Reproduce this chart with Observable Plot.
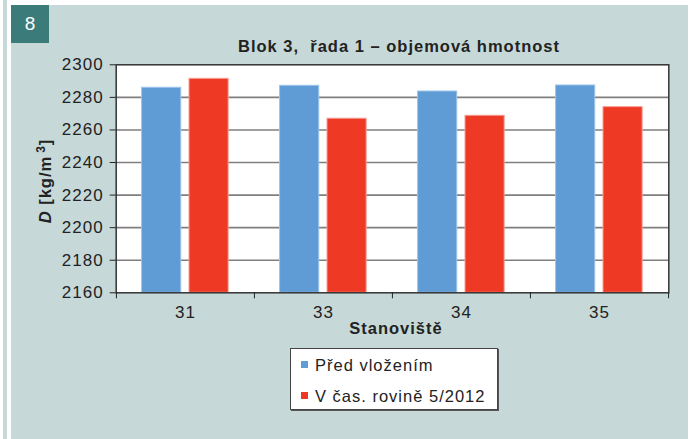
<!DOCTYPE html>
<html><head><meta charset="utf-8">
<script src="https://cdn.jsdelivr.net/npm/d3@7"></script>
<script src="https://cdn.jsdelivr.net/npm/@observablehq/plot@0.6"></script>
<style>
html,body{margin:0;padding:0;background:#fff;}
body{width:690px;height:439px;position:relative;overflow:hidden;font-family:"Liberation Sans",Arial,sans-serif;color:#222;}
#strip{position:absolute;left:3px;top:0;width:4px;height:439px;background:#c6d9d8;}
#panel{position:absolute;left:11px;top:5px;width:677px;height:434px;background:#c6d9d8;}
#badge{position:absolute;left:11px;top:5px;width:38px;height:38px;background:#3b7b79;color:#fff;font-size:19px;line-height:38px;text-align:center;}
#chart{position:absolute;left:0;top:0;}
#chart text{letter-spacing:1px;}
#title{position:absolute;left:399px;top:38px;transform:translateX(-50%);font-size:16.5px;line-height:1;font-weight:bold;letter-spacing:1px;white-space:nowrap;}
#xlab{position:absolute;left:396px;top:320px;transform:translateX(-50%);font-size:16.5px;line-height:1;font-weight:bold;letter-spacing:1px;white-space:nowrap;}
#ylab{position:absolute;left:45px;top:181px;transform:translate(-50%,-50%) rotate(-90deg);font-size:16.5px;line-height:1;font-weight:bold;letter-spacing:1px;white-space:nowrap;}
#ylab sup{font-size:12px;vertical-align:0;position:relative;top:-6px;margin-left:3px;}
#legend{position:absolute;left:290px;top:348px;width:206px;height:60px;background:#fff;border:1px solid #444;box-shadow:1px 1px 0 #555;}
.li{position:absolute;left:24px;font-size:16.5px;line-height:1;letter-spacing:1px;white-space:nowrap;}
.sw{position:absolute;left:10px;width:7px;height:7px;}
</style>
</head><body>
<div id="strip"></div>
<div id="panel"></div>
<div id="badge">8</div>
<div id="chart"></div>
<div id="title">Blok 3,&nbsp; řada 1 – objemová hmotnost</div>
<div id="xlab">Stanoviště</div>
<div id="ylab"><i>D</i>&nbsp;[kg/m<sup>3</sup>]</div>
<div id="legend"></div>
<script>
const categories = ["31", "33", "34", "35"];
const seriesNames = ["Před vložením", "V čas. rovině 5/2012"];
const before = [2285.9, 2287.1, 2283.6, 2287.3];
const after = [2291.4, 2266.9, 2268.7, 2274.0];
const yTicks = [2160, 2180, 2200, 2220, 2240, 2260, 2280, 2300];
const colors = ["#5f9bd4", "#ee3924"];
const edgeColors = ["#9cc4ea", "#f6a096"];

const rowsBefore = categories.map((c, i) => ({cat: c, series: seriesNames[0], value: before[i]}));
const rowsAfter = categories.map((c, i) => ({cat: c, series: seriesNames[1], value: after[i]}));

const mL = 115.7, mR = 21.7, W = 690;
const band = (W - mL - mR) / categories.length;

const chart = Plot.plot({
  width: W, height: 439,
  marginLeft: mL, marginRight: mR, marginTop: 64.3, marginBottom: 146.7,
  x: {type: "band", domain: categories, padding: 0},
  y: {domain: [yTicks[0], yTicks[yTicks.length - 1]]},
  color: {domain: seriesNames, range: colors},
  style: {background: "transparent", fontFamily: "'Liberation Sans', Arial, sans-serif", fontSize: "17px", color: "#222", overflow: "visible"},
  marks: [
    Plot.frame({fill: "white", stroke: null}),
    Plot.gridY(yTicks.slice(1, -1), {stroke: "#7f7f7f", strokeOpacity: 1, strokeWidth: 1.6}),
    Plot.barY(rowsBefore, {x: "cat", y1: yTicks[0], y2: "value", fill: "series", stroke: edgeColors[0], strokeWidth: 1, insetLeft: 25.6, insetRight: band - 25.6 - 39.3}),
    Plot.barY(rowsAfter, {x: "cat", y1: yTicks[0], y2: "value", fill: "series", stroke: edgeColors[1], strokeWidth: 1, insetLeft: 73, insetRight: band - 73 - 39.3}),
    Plot.frame({stroke: "#333", strokeWidth: 1.5}),
    Plot.axisY(yTicks, {tickSize: 6, tickPadding: 6.5, label: null, fontSize: 17, stroke: "#222", tickFormat: d => String(d)}),
    Plot.axisX({tickSize: 0, tickPadding: 12.9, label: null, fontSize: 17}),
    Plot.axisX(categories, {tickSize: 6, text: null, label: null, dx: -band / 2, stroke: "#222"}),
    Plot.axisX([categories[categories.length - 1]], {tickSize: 6, text: null, label: null, dx: band / 2, stroke: "#222"})
  ]
});
document.getElementById("chart").appendChild(chart);

const legend = document.getElementById("legend");
const tops = [11, 42];
seriesNames.forEach((name, i) => {
  const sw = document.createElement("div");
  sw.className = "sw";
  sw.style.top = (tops[i] + 1) + "px";
  sw.style.background = colors[i];
  legend.appendChild(sw);
  const t = document.createElement("div");
  t.className = "li";
  t.style.top = (tops[i] - 3) + "px";
  t.textContent = name;
  legend.appendChild(t);
});
</script>
</body></html>
